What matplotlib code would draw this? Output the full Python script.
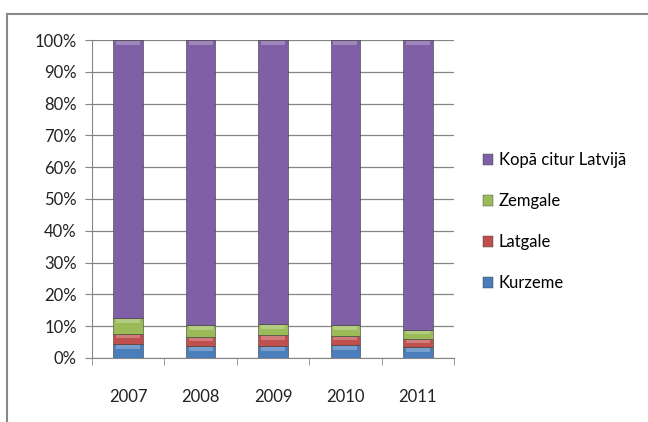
import matplotlib.pyplot as plt
import numpy as np
from matplotlib.lines import Line2D
from matplotlib.patches import Patch

plt.rcParams['font.family'] = ['Lato', 'DejaVu Sans']

years = ['2007', '2008', '2009', '2010', '2011']
series = ['Kurzeme', 'Latgale', 'Zemgale', 'Kopā citur Latvijā']
kurzeme = [4.5, 3.7, 3.8, 4.0, 3.4]
latgale = [3.1, 2.9, 3.3, 2.9, 2.7]
zemgale = [4.9, 3.8, 3.7, 3.6, 2.65]
citur = [87.5, 89.6, 89.2, 89.5, 91.25]
colors = ['#4a7ebb', '#c0504d', '#9bbb59', '#7f5fa6']

fig = plt.figure(figsize=(6.48, 4.22), dpi=100)
ax = fig.add_axes([0.142, 0.1517, 0.5586, 0.7535])

data = np.array([kurzeme, latgale, zemgale, citur])
data = data / data.sum(axis=0) * 100
x = np.arange(len(years))
bottom = np.zeros(len(years))
for vals, col in zip(data, colors):
    ax.bar(x, vals, 0.41, bottom=bottom, color=col, edgecolor='#3a3a3a',
           linewidth=0.4, zorder=3)
    # thin light band at the top of each segment, hint of the bevel
    band = np.minimum(vals * 0.35, 1.3)
    ax.bar(x, band, 0.33, bottom=bottom + vals - band - 0.3, color='white',
           alpha=0.25, linewidth=0, zorder=4)
    bottom += vals

ax.set_xlim(-0.5, len(years) - 0.5)
ax.set_ylim(0, 100)
ax.set_yticks(np.arange(0, 101, 10))
ax.set_yticklabels([f'{v}%' for v in range(0, 101, 10)])
ax.yaxis.grid(True, color='#868686', linewidth=0.9, zorder=0)
ax.set_xticks(x)
ax.set_xticklabels(years)
ax.set_xticks(np.arange(-0.5, len(years)), minor=True)
ax.tick_params(axis='x', which='major', length=0, pad=22, labelsize=12, colors='#222222')
ax.tick_params(axis='x', which='minor', length=5, color='#868686', direction='out')
ax.tick_params(axis='y', length=5, color='#868686', pad=6, labelsize=12, colors='#222222')
for s in ['top', 'right']:
    ax.spines[s].set_visible(False)
ax.spines['left'].set_color('#868686')
ax.spines['bottom'].set_color('#868686')

handles = [Patch(facecolor=c, edgecolor='#3a3a3a', linewidth=0.3) for c in colors]
fig.legend(handles[::-1], series[::-1], loc='center left',
           bbox_to_anchor=(0.722, 0.474), frameon=False, fontsize=12,
           handlelength=0.6, handleheight=0.6, handletextpad=0.35,
           labelspacing=1.5)

# outer chart frame (top and left only visible)
fig.add_artist(Line2D([0.0108, 1.0], [0.967, 0.967], color='#888888', linewidth=1.5))
fig.add_artist(Line2D([0.0108, 0.0108], [0.0, 0.967], color='#888888', linewidth=1.5))

fig.savefig('out.png', dpi=100)
